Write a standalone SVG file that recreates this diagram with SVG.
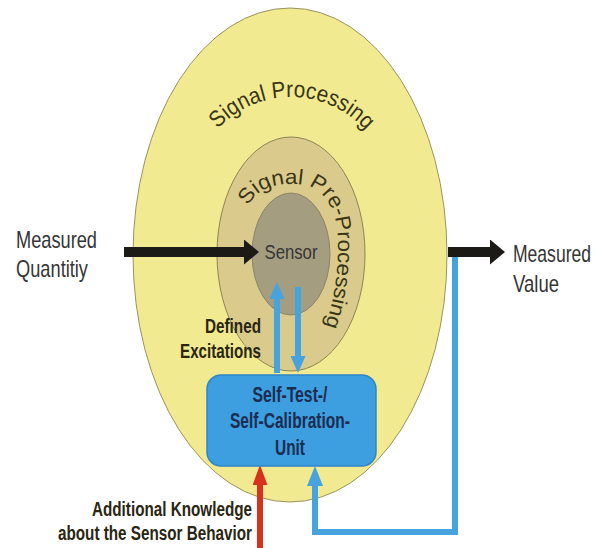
<svg xmlns="http://www.w3.org/2000/svg" width="593" height="548" viewBox="0 0 593 548">
<style>
.lbl{font-family:"Liberation Sans",Arial,sans-serif;fill:#353535}
.bold{font-family:"Liberation Sans",Arial,sans-serif;font-weight:bold;fill:#2a2612}
.box{font-family:"Liberation Sans",Arial,sans-serif;font-weight:bold;fill:#1b2d50}
.arc{font-family:"Liberation Sans",Arial,sans-serif;fill:#3a3516}
.blue{fill:none;stroke:#46a3de;stroke-width:6}
</style>
<defs>
<marker id="hb" markerUnits="userSpaceOnUse" markerWidth="17" markerHeight="15" refX="0" refY="7.5" orient="auto" viewBox="0 0 17 15"><path d="M0,0 L17,7.5 L0,15 z" fill="#46a3de"/></marker>
<marker id="hb2" markerUnits="userSpaceOnUse" markerWidth="20" markerHeight="16" refX="0" refY="8" orient="auto" viewBox="0 0 20 16"><path d="M0,0 L20,8 L0,16 z" fill="#46a3de"/></marker>
<marker id="hr" markerUnits="userSpaceOnUse" markerWidth="20" markerHeight="15" refX="0" refY="7.5" orient="auto" viewBox="0 0 20 15"><path d="M0,0 L20,7.5 L0,15 z" fill="#d6321e"/></marker>
<marker id="hk" markerUnits="userSpaceOnUse" markerWidth="15" markerHeight="25" refX="0" refY="12.5" orient="auto" viewBox="0 0 15 25"><path d="M0,0 L15,12.5 L0,25 z" fill="#1c1a16"/></marker>
<path id="p1" d="M217.9,128.8 A100,100 0 0 1 367.6,132.7"/>
<path id="p2" d="M248,206 C258,186 280,183 298,184 C325,186 338,210 338,245 C338,280 333,305 322,335"/>
</defs>
<g id="signal-processing">
<ellipse cx="290" cy="255" rx="157" ry="247" fill="#f1ea90" stroke="#9a9360" stroke-width="1"/>
<text class="arc" font-size="23"><textPath href="#p1" textLength="166" lengthAdjust="spacingAndGlyphs">Signal Processing</textPath></text>
</g>
<g id="signal-preprocessing">
<ellipse cx="291" cy="254" rx="74" ry="117" fill="#dacb8c" stroke="#8c8454" stroke-width="1"/>
</g>
<g id="sensor">
<ellipse cx="291" cy="254" rx="39" ry="61" fill="#a59d80" stroke="#8a8468" stroke-width="1"/>
<text class="lbl" x="291" y="259" font-size="21" text-anchor="middle" textLength="53" lengthAdjust="spacingAndGlyphs" fill="#36322a">Sensor</text>
</g>
<g id="preproc-label">
<text class="arc" font-size="21"><textPath href="#p2" textLength="222" lengthAdjust="spacingAndGlyphs">Signal Pre-Processing</textPath></text>
</g>
<g id="connectors">
<path class="blue" d="M455,252 V532 H315 V486" marker-end="url(#hb2)"/>
<path class="blue" d="M277,373 V299" marker-end="url(#hb)"/>
<path class="blue" d="M298,287 V356" marker-end="url(#hb)"/>
<path d="M260,548 V485" stroke="#d6321e" stroke-width="6" fill="none" marker-end="url(#hr)"/>
<path d="M124,252 H244" stroke="#1c1a16" stroke-width="10" fill="none" marker-end="url(#hk)"/>
<path d="M448,252 H490" stroke="#1c1a16" stroke-width="10" fill="none" marker-end="url(#hk)"/>
</g>
<g id="self-test-unit">
<rect x="207" y="375" width="169" height="91" rx="14" fill="#3d9ee0" stroke="#2d86c7" stroke-width="1.5"/>
<text class="box" x="290" y="402" font-size="22" text-anchor="middle" textLength="75" lengthAdjust="spacingAndGlyphs">Self-Test-/</text>
<text class="box" x="290" y="428" font-size="22" text-anchor="middle" textLength="120" lengthAdjust="spacingAndGlyphs">Self-Calibration-</text>
<text class="box" x="290" y="455" font-size="22" text-anchor="middle" textLength="30" lengthAdjust="spacingAndGlyphs">Unit</text>
</g>
<g id="measured-quantity">
<text class="lbl" x="16" y="248" font-size="24" textLength="81" lengthAdjust="spacingAndGlyphs">Measured</text>
<text class="lbl" x="16" y="277" font-size="24" textLength="72" lengthAdjust="spacingAndGlyphs">Quantitiy</text>
</g>
<g id="measured-value">
<text class="lbl" x="513" y="262" font-size="24" textLength="78" lengthAdjust="spacingAndGlyphs">Measured</text>
<text class="lbl" x="513" y="292" font-size="24" textLength="46" lengthAdjust="spacingAndGlyphs">Value</text>
</g>
<g id="defined-excitations">
<text class="bold" x="261" y="333" font-size="21" text-anchor="end" textLength="56" lengthAdjust="spacingAndGlyphs">Defined</text>
<text class="bold" x="261" y="358" font-size="21" text-anchor="end" textLength="81" lengthAdjust="spacingAndGlyphs">Excitations</text>
</g>
<g id="additional-knowledge">
<text class="bold" x="252" y="516" font-size="20" text-anchor="end" textLength="160" lengthAdjust="spacingAndGlyphs">Additional Knowledge</text>
<text class="bold" x="252" y="540" font-size="20" text-anchor="end" textLength="194" lengthAdjust="spacingAndGlyphs">about the Sensor Behavior</text>
</g>
</svg>
